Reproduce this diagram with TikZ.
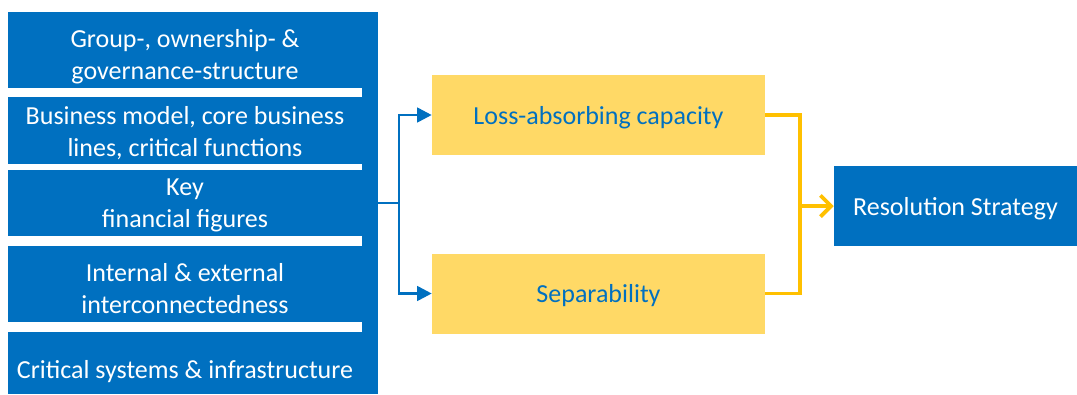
\documentclass[tikz,border=0pt]{standalone}
\usepackage{fontspec}
\setmainfont{Carlito}
\usetikzlibrary{arrows.meta}
\definecolor{ecbblue}{HTML}{0070C0}
\definecolor{paleyellow}{HTML}{FFD966}
\definecolor{goldline}{HTML}{FFC000}
\newcommand{\droptext}[2]{\raisebox{-#1}[\height][\depth]{\begin{tabular}{@{}c@{}}#2\end{tabular}}}
\tikzset{
  srcbox/.style={rectangle,fill=ecbblue,text=white,align=center,inner sep=0pt,
    minimum width=265.5pt,font=\fontsize{19.5}{24}\selectfont},
  pillar/.style={rectangle,fill=paleyellow,text=ecbblue,inner sep=0pt,
    minimum width=249.75pt,minimum height=60pt,font=\fontsize{19.5}{24}\selectfont},
  goal/.style={rectangle,fill=ecbblue,text=white,inner sep=0pt,
    minimum width=182.25pt,minimum height=60pt,font=\fontsize{19.5}{24}\selectfont},
  feed/.style={draw=ecbblue,line width=2pt,-{Triangle[length=11pt,width=11pt]}},
  merge/.style={draw=goldline,line width=2.8pt}
}
\begin{document}
\begin{tikzpicture}[x=0.75pt,y=-0.75pt]

        \fill[white] (0,0) rectangle (1077,394);
        \useasboundingbox (0,0) rectangle (1077,394);

        \begin{scope}[every node/.style={srcbox}]
          \node[minimum height=57pt]    (grp)  at (185,50)    {\droptext{5.5pt}{Group-, ownership- \&\\governance-structure}};
          \node[minimum height=50.25pt] (bus)  at (185,130.5) {\droptext{2.5pt}{Business model, core business\\lines, critical functions}};
          \node[minimum height=49.5pt]  (fig)  at (185,203)   {\droptext{1.5pt}{Key\\financial figures}};
          \node[minimum height=57pt]    (ic)   at (185,284)   {\droptext{5.5pt}{Internal \& external\\interconnectedness}};
          \node[minimum height=46.5pt]  (sys)  at (185,363)   {\droptext{6.5pt}{Critical systems \& infrastructure}};
          \node[minimum width=12pt,minimum height=286.5pt] (spine) at (370,203) {};
        \end{scope}

        \node[pillar] (lac) at (598.5,115)   {\droptext{2pt}{Loss-absorbing capacity}};
        \node[pillar] (sep) at (598.5,293.5) {\droptext{2pt}{Separability}};
        \node[goal]   (res) at (955.5,206)   {\droptext{2pt}{Resolution Strategy}};

        \coordinate (split) at (399,203);
        \coordinate (join)  at (800,206);

        \draw[draw=ecbblue,line width=2pt] (spine.east) -- (split);
        \draw[feed] (split) |- (lac.west);
        \draw[feed] (split) |- (sep.west);

        \draw[merge] (lac.east) -| (join) |- (sep.east);
        \draw[merge,-{Straight Barb[length=8pt,width=16pt]}] (join) -- (res.west);

      \end{tikzpicture}
\end{document}
